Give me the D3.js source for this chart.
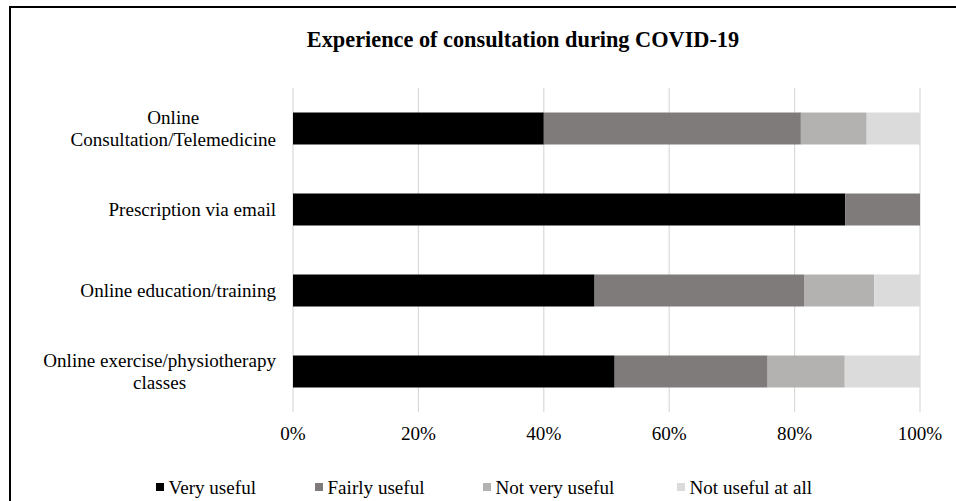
<!DOCTYPE html>
<html>
<head>
<meta charset="utf-8">
<script src="https://cdn.jsdelivr.net/npm/d3@7"></script>
<style>
  html, body { margin: 0; padding: 0; background: #fff; }
  svg { display: block; }
  text { font-family: "Liberation Serif", "Times New Roman", serif; fill: #000; }
</style>
</head>
<body>
<svg id="chart" width="956" height="501"></svg>
<script>
// ---- data ----
const categories = [
  ["Online", "Consultation/Telemedicine"],
  ["Prescription via email"],
  ["Online education/training"],
  ["Online exercise/physiotherapy", "classes"]
];
const seriesNames = ["Very useful", "Fairly useful", "Not very useful", "Not useful at all"];
const veryUseful     = [40.0, 88.1, 48.1, 51.3];
const fairlyUseful   = [41.0, 11.9, 33.4, 24.4];
const notVeryUseful  = [10.5, 0.0, 11.2, 12.3];
const notUsefulAtAll = [8.5, 0.0, 7.3, 12.0];
const tickValues = [0, 20, 40, 60, 80, 100];
const title = "Experience of consultation during COVID-19";

// ---- layout ----
const colors = ["#000000", "#7f7b7a", "#b3b2b1", "#dbdbdb"];
const plot = { left: 293, right: 920, top: 88, bottom: 412 };
const fontSize = 19.1;

const svg = d3.select("#chart");

// frame
svg.append("rect")
  .attr("x", 10).attr("y", 7)
  .attr("width", 960).attr("height", 520)
  .attr("fill", "none").attr("stroke", "#000").attr("stroke-width", 2);

const keys = categories.map((c, i) => i);
const table = keys.map(i => ({
  idx: i,
  "Very useful": veryUseful[i],
  "Fairly useful": fairlyUseful[i],
  "Not very useful": notVeryUseful[i],
  "Not useful at all": notUsefulAtAll[i]
}));

const x = d3.scaleLinear().domain([0, 100]).range([plot.left, plot.right]);
const y = d3.scaleBand().domain(keys)
  .range([plot.top, plot.bottom])
  .paddingInner(0.605).paddingOuter(0.3025);

// gridlines
svg.append("g").selectAll("line").data(tickValues).join("line")
  .attr("x1", d => x(d)).attr("x2", d => x(d))
  .attr("y1", plot.top).attr("y2", plot.bottom)
  .attr("stroke", "#d9d9d9").attr("stroke-width", 1.2);

// tick labels
svg.append("g").selectAll("text").data(tickValues).join("text")
  .attr("x", d => x(d)).attr("y", 440)
  .attr("text-anchor", "middle")
  .style("font-size", fontSize + "px")
  .text(d => d + "%");

// bars
const stack = d3.stack().keys(seriesNames);
const stacked = stack(table);
svg.append("g").selectAll("g").data(stacked).join("g")
  .attr("fill", (d, i) => colors[i])
  .selectAll("rect").data(d => d).join("rect")
  .attr("x", d => x(d[0]))
  .attr("width", d => Math.max(0, x(d[1]) - x(d[0])))
  .attr("y", d => y(d.data.idx))
  .attr("height", y.bandwidth());

// category labels
const labelRight = 276;
const lineH = 21.7;
const lg = svg.append("g");
categories.forEach((lines, i) => {
  const cy = y(i) + y.bandwidth() / 2;
  const g = lg.append("g");
  const texts = lines.map((ln, j) => g.append("text")
    .style("font-size", fontSize + "px")
    .attr("text-anchor", "middle")
    .attr("y", cy + 6.4 + (j - (lines.length - 1) / 2) * lineH)
    .text(ln));
  const maxW = d3.max(texts, t => t.node().getComputedTextLength());
  texts.forEach(t => t.attr("x", labelRight - maxW / 2));
});

// title
svg.append("text")
  .attr("x", 523).attr("y", 46.5)
  .attr("text-anchor", "middle")
  .style("font-size", "22.3px").style("font-weight", "bold")
  .text(title);

// legend
const legendX = [156, 315, 483, 677];
const leg = svg.append("g").selectAll("g").data(seriesNames).join("g")
  .attr("transform", (d, i) => `translate(${legendX[i]},0)`);
leg.append("rect")
  .attr("x", 0).attr("y", 483).attr("width", 8).attr("height", 8)
  .attr("fill", (d, i) => colors[i]);
leg.append("text")
  .attr("x", 12.5).attr("y", 494)
  .style("font-size", fontSize + "px")
  .text(d => d);
</script>
</body>
</html>
